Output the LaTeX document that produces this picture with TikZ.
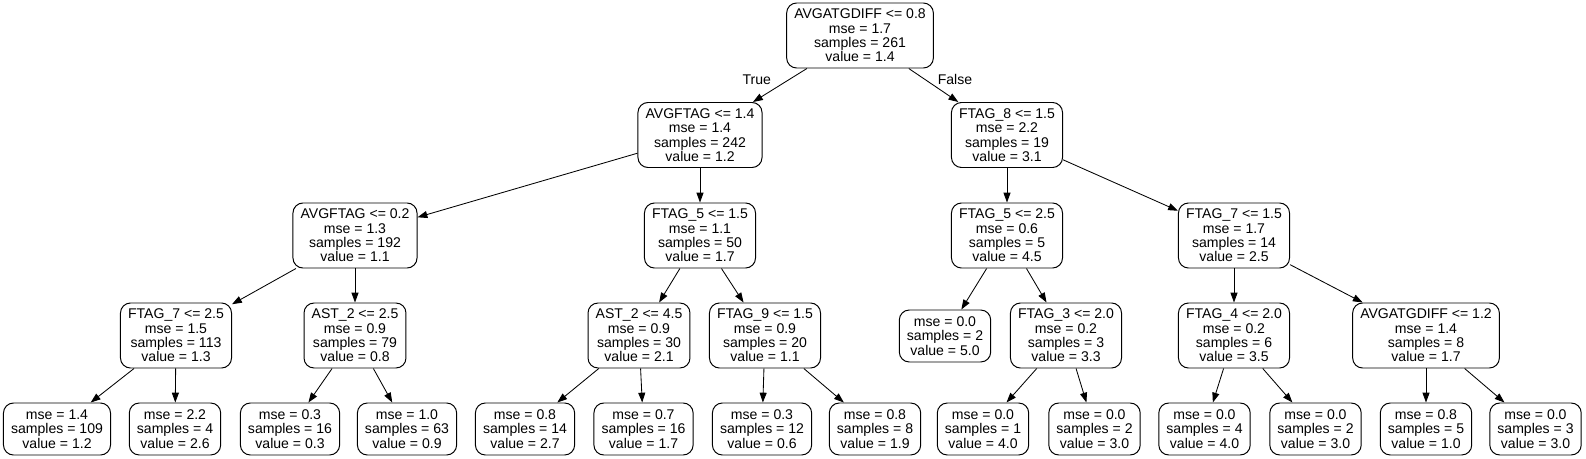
\documentclass[tikz,border=0pt]{standalone}
\usepackage{fontspec}
\setmainfont{Liberation Sans}
\usepackage{tikz}
\usetikzlibrary{arrows.meta, positioning, shapes}
\tikzset{
    splitnode/.style={draw, rounded corners=0.25cm, align=center, inner xsep=0.19cm, inner ysep=0pt, minimum height=1.625cm, line width=0.7pt, font=\fontsize{10}{10.2}\selectfont},
    leafnode/.style={splitnode, minimum height=1.3cm},
    mylabel/.style={font=\fontsize{10}{10.2}\selectfont}
}

\begin{document}
\begin{tikzpicture}
\tikzset{
    myarrow/.style={-{Triangle[length=7pt,width=5pt]}, line width=0.6pt}
}
  \useasboundingbox (0,0) rectangle (39.65,11.45);

  % level 0 and 1
  \node[splitnode] (n0) at (21.5,10.5625) {AVGATGDIFF <= 0.8\\mse = 1.7\\samples = 261\\value = 1.4};
  \node[splitnode] (n1) at (17.5,8.075) {AVGFTAG <= 1.4\\mse = 1.4\\samples = 242\\value = 1.2};
  \node[splitnode] (n2) at (25.175,8.075) {FTAG\_8 <= 1.5\\mse = 2.2\\samples = 19\\value = 3.1};

  % level 2
  \node[splitnode] (n3) at (8.875,5.5625) {AVGFTAG <= 0.2\\mse = 1.3\\samples = 192\\value = 1.1};
  \node[splitnode] (n4) at (17.5,5.5625) {FTAG\_5 <= 1.5\\mse = 1.1\\samples = 50\\value = 1.7};
  \node[splitnode] (n5) at (25.175,5.5625) {FTAG\_5 <= 2.5\\mse = 0.6\\samples = 5\\value = 4.5};
  \node[splitnode] (n6) at (30.85,5.5625) {FTAG\_7 <= 1.5\\mse = 1.7\\samples = 14\\value = 2.5};

  % level 3
  \node[splitnode] (n7) at (4.4,3.0625) {FTAG\_7 <= 2.5\\mse = 1.5\\samples = 113\\value = 1.3};
  \node[splitnode] (n8) at (8.875,3.0625) {AST\_2 <= 2.5\\mse = 0.9\\samples = 79\\value = 0.8};
  \node[splitnode] (n9) at (15.975,3.0625) {AST\_2 <= 4.5\\mse = 0.9\\samples = 30\\value = 2.1};
  \node[splitnode] (n10) at (19.125,3.0625) {FTAG\_9 <= 1.5\\mse = 0.9\\samples = 20\\value = 1.1};
  \node[leafnode] (n11) at (23.625,3.05) {mse = 0.0\\samples = 2\\value = 5.0};
  \node[splitnode] (n12) at (26.65,3.0625) {FTAG\_3 <= 2.0\\mse = 0.2\\samples = 3\\value = 3.3};
  \node[splitnode] (n13) at (30.85,3.0625) {FTAG\_4 <= 2.0\\mse = 0.2\\samples = 6\\value = 3.5};
  \node[splitnode] (n14) at (35.65,3.0625) {AVGATGDIFF <= 1.2\\mse = 1.4\\samples = 8\\value = 1.7};

  % leaves
  \node[leafnode] (n15) at (1.425,0.725) {mse = 1.4\\samples = 109\\value = 1.2};
  \node[leafnode] (n16) at (4.375,0.725) {mse = 2.2\\samples = 4\\value = 2.6};
  \node[leafnode] (n17) at (7.25,0.725) {mse = 0.3\\samples = 16\\value = 0.3};
  \node[leafnode] (n18) at (10.175,0.725) {mse = 1.0\\samples = 63\\value = 0.9};
  \node[leafnode] (n19) at (13.125,0.725) {mse = 0.8\\samples = 14\\value = 2.7};
  \node[leafnode] (n20) at (16.0875,0.725) {mse = 0.7\\samples = 16\\value = 1.7};
  \node[leafnode] (n21) at (19.05,0.725) {mse = 0.3\\samples = 12\\value = 0.6};
  \node[leafnode] (n22) at (21.875,0.725) {mse = 0.8\\samples = 8\\value = 1.9};
  \node[leafnode] (n23) at (24.575,0.725) {mse = 0.0\\samples = 1\\value = 4.0};
  \node[leafnode] (n24) at (27.3625,0.725) {mse = 0.0\\samples = 2\\value = 3.0};
  \node[leafnode] (n25) at (30.1125,0.725) {mse = 0.0\\samples = 4\\value = 4.0};
  \node[leafnode] (n26) at (32.8875,0.725) {mse = 0.0\\samples = 2\\value = 3.0};
  \node[leafnode] (n27) at (35.65,0.725) {mse = 0.8\\samples = 5\\value = 1.0};
  \node[leafnode] (n28) at (38.3875,0.725) {mse = 0.0\\samples = 3\\value = 3.0};

  % edges
  \draw[myarrow] (n0) -- (n1);
  \draw[myarrow] (n0) -- (n2);
  \draw[myarrow] (n1) -- (n3);
  \draw[myarrow] (n1) -- (n4);
  \draw[myarrow] (n2) -- (n5);
  \draw[myarrow] (n2) -- (n6);
  \draw[myarrow] (n3) -- (n7);
  \draw[myarrow] (n3) -- (n8);
  \draw[myarrow] (n4) -- (n9);
  \draw[myarrow] (n4) -- (n10);
  \draw[myarrow] (n5) -- (n11);
  \draw[myarrow] (n5) -- (n12);
  \draw[myarrow] (n6) -- (n13);
  \draw[myarrow] (n6) -- (n14);
  \draw[myarrow] (n7) -- (n15);
  \draw[myarrow] (n7) -- (n16);
  \draw[myarrow] (n8) -- (n17);
  \draw[myarrow] (n8) -- (n18);
  \draw[myarrow] (n9) -- (n19);
  \draw[myarrow] (n9) -- (n20);
  \draw[myarrow] (n10) -- (n21);
  \draw[myarrow] (n10) -- (n22);
  \draw[myarrow] (n12) -- (n23);
  \draw[myarrow] (n12) -- (n24);
  \draw[myarrow] (n13) -- (n25);
  \draw[myarrow] (n13) -- (n26);
  \draw[myarrow] (n14) -- (n27);
  \draw[myarrow] (n14) -- (n28);

  \node[mylabel] (ltrue) at (18.92,9.465) {True};
  \node[mylabel] (lfalse) at (23.875,9.475) {False};
\end{tikzpicture}
\end{document}
